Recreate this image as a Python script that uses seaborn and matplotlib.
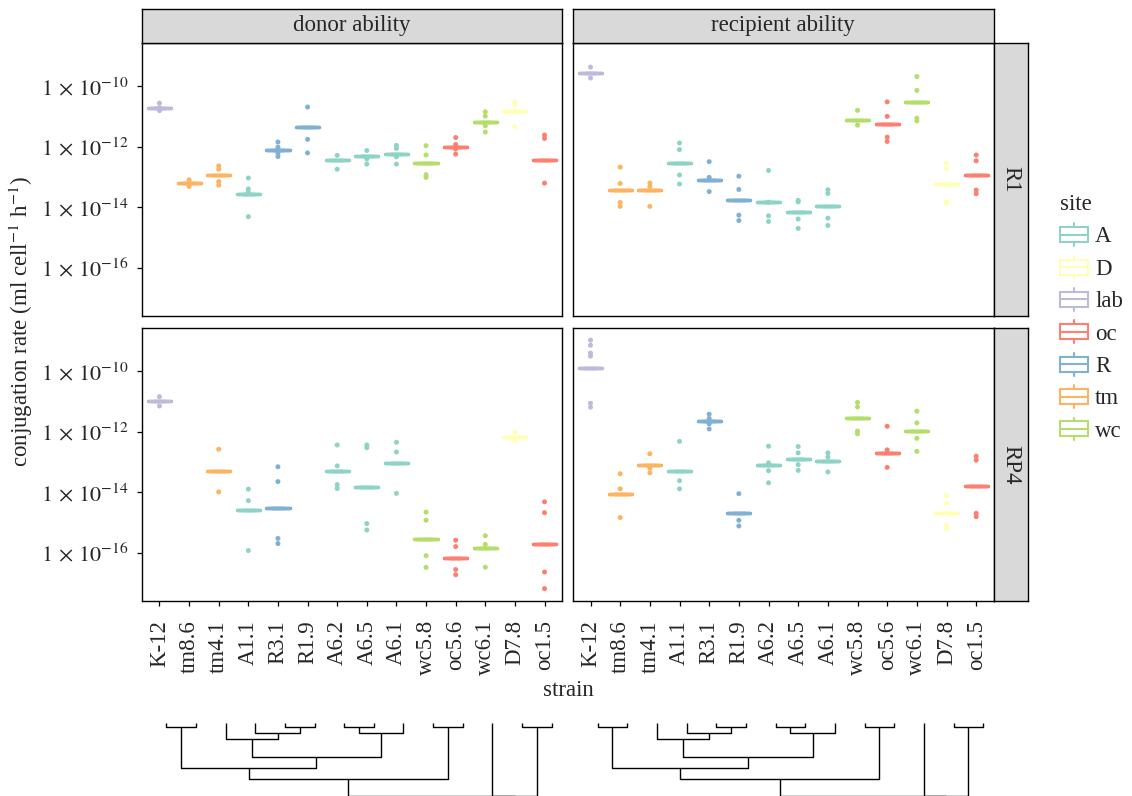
import matplotlib

matplotlib.use("Agg")
import matplotlib.pyplot as plt
import numpy as np
import pandas as pd
import seaborn as sns
from matplotlib.legend_handler import HandlerBase
from matplotlib.lines import Line2D
from matplotlib.patches import Patch, Rectangle
from matplotlib.ticker import FixedLocator, NullLocator

# strains on the x axis and the site each belongs to
strains = ["K-12", "tm8.6", "tm4.1", "A1.1", "R3.1", "R1.9", "A6.2",
           "A6.5", "A6.1", "wc5.8", "oc5.6", "wc6.1", "D7.8", "oc1.5"]
strain_sites = ["lab", "tm", "tm", "A", "R", "R", "A",
                "A", "A", "wc", "oc", "wc", "D", "oc"]
site_order = ["A", "D", "lab", "oc", "R", "tm", "wc"]
site_colors = ["#8DD3C7", "#FFFFB3", "#BEBADA", "#FB8072", "#80B1D3", "#FDB462", "#B3DE69"]

# log10 conjugation rate (None = no data)
donor_r1_median = [-10.70, -13.20, -12.93, -13.55, -12.11, -11.33, -12.43,
                   -12.31, -12.22, -12.55, -11.99, -11.16, -10.80, -12.43]
donor_r1_points = [
    [-10.55, -10.70, -10.80],
    [-13.09, -13.20, -13.31],
    [-12.63, -12.74, -13.15, -13.27],
    [-13.03, -13.39, -13.50, -14.31],
    [-11.84, -12.01, -12.21, -12.32],
    [-10.68, -11.75, -12.20],
    [-12.28, -12.74],
    [-12.12, -12.40, -12.57],
    [-11.95, -12.05, -12.33, -12.57],
    [-11.96, -12.27, -12.92, -13.01],
    [-11.69, -11.92, -12.07, -12.24],
    [-10.84, -10.98, -11.30, -11.51],
    [-10.51, -10.61, -11.33],
    [-11.61, -11.72, -13.20],
]

recipient_r1_median = [-9.54, -13.42, -13.42, -12.53, -13.11, -13.77, -13.83,
                       -14.17, -13.97, -11.11, -11.25, -10.50, -13.23, -12.92]
recipient_r1_points = [
    [-9.36, -9.72],
    [-12.67, -13.21, -13.84, -13.97],
    [-13.20, -13.31, -13.97],
    [-11.87, -12.09, -12.93, -13.23],
    [-12.49, -13.01, -13.48],
    [-12.97, -13.41, -14.26, -14.44],
    [-12.78, -13.83, -14.28, -14.47],
    [-13.77, -13.82, -14.39, -14.70],
    [-13.42, -13.54, -14.36, -14.60],
    [-10.79, -11.28],
    [-10.51, -10.99, -11.68, -11.82],
    [-9.67, -10.13, -11.05, -11.14],
    [-12.54, -12.73, -13.81, -13.88],
    [-12.27, -12.46, -13.43, -13.55],
]

donor_rp4_median = [-10.99, None, -13.29, -14.60, -14.51, None, -13.30,
                    -13.82, -13.03, -15.54, -16.17, -15.86, -12.16, -15.71]
donor_rp4_points = [
    [-10.84, -11.15],
    [],
    [-12.58, -13.99],
    [-13.90, -14.28, -15.93],
    [-13.16, -13.65, -15.53, -15.70],
    [],
    [-12.44, -13.13, -13.75, -13.88],
    [-12.44, -12.53, -15.04, -15.25],
    [-12.35, -12.67, -14.04],
    [-14.66, -14.93, -16.10, -16.49],
    [-15.59, -15.80, -16.56, -16.73],
    [-15.44, -15.73, -16.48],
    [-12.02, -12.29],
    [-14.32, -14.68, -16.64, -17.19],
]

recipient_rp4_median = [-9.88, -14.05, -13.09, -13.29, -11.65, -14.70, -13.11,
                        -12.89, -12.96, -11.56, -12.70, -11.98, -14.70, -13.81]
recipient_rp4_points = [
    [-8.97, -9.14, -9.40, -9.50, -11.06, -11.19],
    [-13.39, -13.89, -14.84],
    [-12.73, -13.21, -13.36],
    [-12.32, -13.62, -13.89],
    [-11.42, -11.56, -11.74, -11.91],
    [-14.05, -14.93, -15.12],
    [-12.48, -13.03, -13.29, -13.69],
    [-12.49, -12.70, -13.09, -13.28],
    [-12.70, -12.84, -13.33],
    [-11.03, -11.18, -11.98, -12.07],
    [-11.82, -12.60, -13.18],
    [-11.32, -11.71, -12.22, -12.65],
    [-14.12, -14.37, -15.09, -15.20],
    [-12.81, -12.94, -14.70, -14.81],
]

# dendrogram under each column: (child, child, height); leaves are 0..13,
# merged nodes get ids 14, 15, ...
dendro_merges = [
    (0, 1, 4.6), (4, 5, 4.6), (3, 15, 10.6), (2, 16, 16.6),
    (6, 7, 4.6), (18, 8, 10.6), (17, 19, 34.0), (14, 20, 45.0),
    (9, 10, 4.6), (21, 22, 56.6), (12, 13, 4.6), (11, 24, 73.3),
    (23, 25, 73.3),
]

col_labels = ["donor ability", "recipient ability"]
row_labels = ["R1", "RP4"]
ytick_exps = [-10, -12, -14, -16]

W, H = 1132, 796
FS = 16.5

sns.set_style("white")
plt.rcParams["font.family"] = ["Liberation Serif", "DejaVu Serif"]
plt.rcParams["mathtext.fontset"] = "stix"

palette = dict(zip(site_order, site_colors))


def medians_frame(medians):
    rows = [(s, site, 10.0 ** m) for s, site, m in zip(strains, strain_sites, medians) if m is not None]
    return pd.DataFrame(rows, columns=["strain", "site", "rate"])


def points_frame(points):
    rows = [(s, site, 10.0 ** v) for s, site, vals in zip(strains, strain_sites, points) for v in vals]
    return pd.DataFrame(rows, columns=["strain", "site", "rate"])


fig = plt.figure(figsize=(W / 100, H / 100), dpi=100)


def px_axes(x0, y0, x1, y1):
    return fig.add_axes([x0 / W, 1 - y1 / H, (x1 - x0) / W, (y1 - y0) / H])


def strip_axes(x0, y0, x1, y1):
    sax = px_axes(x0, y0, x1, y1)
    sax.set_facecolor("#D9D9D9")
    sax.set_xticks([])
    sax.set_yticks([])
    for sp in sax.spines.values():
        sp.set_linewidth(1.0)
        sp.set_color("black")
    return sax


cols = [(141.7, 562.3), (572.7, 994.0)]
rows = [(43.0, 316.0), (327.7, 601.0)]

panels = [
    [(donor_r1_median, donor_r1_points), (recipient_r1_median, recipient_r1_points)],
    [(donor_rp4_median, donor_rp4_points), (recipient_rp4_median, recipient_rp4_points)],
]

for r, (y0, y1) in enumerate(rows):
    for c, (x0, x1) in enumerate(cols):
        ax = px_axes(x0, y0, x1, y1)
        med, pts = panels[r][c]
        sns.boxplot(data=medians_frame(med), x="strain", y="rate", hue="site",
                    order=strains, hue_order=site_order, palette=palette,
                    dodge=False, fill=False, width=0.78, linewidth=2.4,
                    log_scale=True, legend=False, ax=ax)
        sns.stripplot(data=points_frame(pts), x="strain", y="rate", hue="site",
                      order=strains, hue_order=site_order, palette=palette,
                      dodge=False, jitter=False, size=3.6, linewidth=0,
                      legend=False, ax=ax)
        ax.set_yscale("log")
        ax.set_xlim(-0.6, len(strains) - 0.4)
        ax.set_ylim(10 ** -17.6, 10 ** -8.56)
        ax.set_xlabel("")
        ax.set_ylabel("")
        ax.yaxis.set_major_locator(FixedLocator([10.0 ** e for e in ytick_exps]))
        ax.yaxis.set_minor_locator(NullLocator())
        ax.set_yticklabels([rf"$1\,\times\,10^{{{e}}}$" for e in ytick_exps])
        for sp in ax.spines.values():
            sp.set_color("black")
            sp.set_linewidth(1.0)
        ax.tick_params(axis="both", direction="out", length=3.6, width=0.9,
                       color="black", labelsize=FS, pad=6)
        ax.tick_params(axis="y", labelsize=16)
        ax.tick_params(axis="x", pad=10)
        ax.tick_params(left=(c == 0), labelleft=(c == 0),
                       bottom=(r == 1), labelbottom=(r == 1))
        if r == 1:
            ax.set_xticks(range(len(strains)))
            ax.set_xticklabels(strains, rotation=90, fontsize=FS)

        if c == 1:
            sax = strip_axes(994.0, y0, 1027.7, y1)
            sax.text(0.5, 0.5, row_labels[r], rotation=-90, ha="center", va="center",
                     fontsize=FS, transform=sax.transAxes)

for c, (x0, x1) in enumerate(cols):
    sax = strip_axes(x0, 9.0, x1, 43.0)
    sax.text(0.5, 0.5, col_labels[c], ha="center", va="center",
             fontsize=FS, transform=sax.transAxes)

# dendrograms
for c, (x0, x1) in enumerate(cols):
    dax = px_axes(x0 + 7, 715.0, x1 + 7, 796.0)
    pos = {i: (float(i), 0.0) for i in range(len(strains))}
    for k, (a, b, h) in enumerate(dendro_merges):
        xa, ya = pos[a]
        xb, yb = pos[b]
        dax.plot([xa, xa, xb, xb], [ya, h, h, yb], color="black", lw=1.0,
                 solid_capstyle="butt")
        pos[len(strains) + k] = ((xa + xb) / 2, h)
    dax.set_xlim(-0.6, len(strains) - 0.4)
    dax.set_ylim(73.3, -7.7)
    dax.axis("off")

fig.text(21 / W, 1 - 322 / H, "conjugation rate (ml cell$^{-1}$ h$^{-1}$)",
         rotation=90, ha="center", va="center", fontsize=FS)
fig.text(568 / W, 1 - 691 / H, "strain", ha="center", va="center", fontsize=FS)


class BoxKey(HandlerBase):
    def create_artists(self, legend, orig_handle, xdescent, ydescent,
                       width, height, fontsize, trans):
        col = orig_handle.get_edgecolor()
        x0, y0 = -xdescent, -ydescent
        xm = x0 + width / 2
        box = Rectangle((x0, y0 + 0.17 * height), width, 0.66 * height,
                        facecolor="white", edgecolor=col, lw=1.5, transform=trans)
        mid = Line2D([x0, x0 + width], [y0 + height / 2] * 2, color=col, lw=1.5, transform=trans)
        up = Line2D([xm, xm], [y0 + 0.83 * height, y0 + height], color=col, lw=1.5, transform=trans)
        lo = Line2D([xm, xm], [y0, y0 + 0.17 * height], color=col, lw=1.5, transform=trans)
        return [box, mid, up, lo]


handles = [Patch(edgecolor=col, facecolor="white") for col in site_colors]
leg = fig.legend(handles, site_order, title="site", loc="upper left",
                 bbox_to_anchor=(1060 / W, 1 - 194 / H), frameon=False,
                 fontsize=FS, title_fontsize=FS, handler_map={Patch: BoxKey()},
                 handlelength=1.2, handleheight=1.15, labelspacing=0.36,
                 handletextpad=0.33, borderpad=0, borderaxespad=0,
                 alignment="left")

fig.savefig("out.png", dpi=100)
